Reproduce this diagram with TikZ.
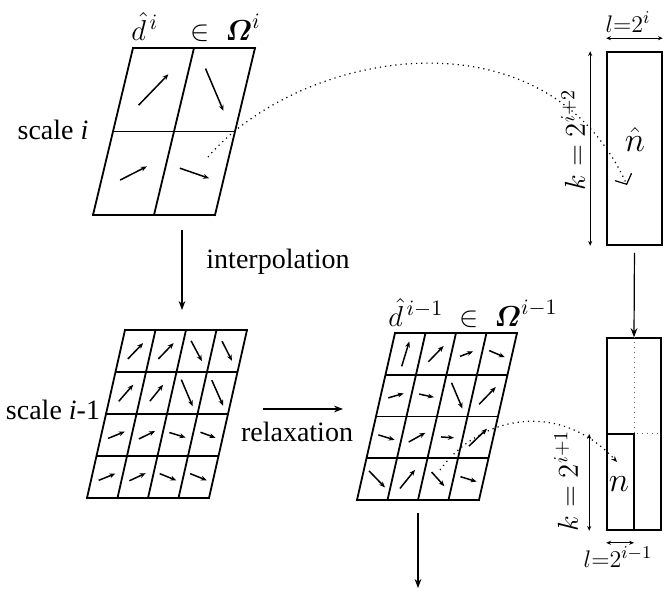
\documentclass[tikz,border=0pt]{standalone}
\usepackage{amsmath,amssymb}
\usepackage{fontspec}
\setmainfont{Liberation Serif}
\usepackage{tikz}
\usepackage{xcolor}
\usetikzlibrary{arrows.meta,calc}
\definecolor{ink}    {HTML}{000000}
\definecolor{inkgray}{HTML}{6A6A6A}
\tikzset{
  cellline/.style ={draw=ink, line width=0.9pt, line cap=rect},
  vec/.style      ={-{Stealth[length=3pt,width=2.4pt]}, line width=0.75pt, draw=ink},
  flow/.style     ={-{Stealth[length=4.5pt,width=3.4pt]}, line width=0.6pt, draw=ink},
  trace/.style    ={dotted, line width=0.6pt, draw=ink},
  dimline/.style  ={{Stealth[length=2.4pt,width=2pt]}-{Stealth[length=2.4pt,width=2pt]},
                    line width=0.4pt, draw=ink},
  blk/.style      ={draw=ink, line width=0.8pt, inner sep=0pt},
  lbl/.style      ={font=\fontsize{14}{16}\selectfont, inner sep=0pt},
  mlbl/.style     ={font=\fontsize{15}{17}\selectfont, inner sep=0pt},
}

\begin{document}
\begin{tikzpicture}[x=0.5pt,y=-0.5pt]
  \useasboundingbox (0,0) rectangle (665,598);

  % scale i: 2x2 field
  \begin{scope}[shift={(133,48)}]
    \foreach \k in {0,1,2} {
      \draw[cellline] (-20*\k,83.5*\k) -- ++(122,0);
      \draw[cellline] (61*\k,0) -- ++(-40,167);
    }
    \foreach \row/\col/\ang/\len in {0/0/46/43, 0/1/-67/46, 1/0/27/30, 1/1/-19/31}
      \draw[vec] (61*\col+30.5-20*\row-10, 83.5*\row+41.75) ++(180-\ang:\len/2) -- ++(-\ang:\len);
  \end{scope}

  % scale i-1: interpolated field
  \begin{scope}[shift={(125,330)}]
    \foreach \k in {0,...,4} {
      \draw[cellline] (-9.5*\k,42*\k) -- ++(122,0);
      \draw[cellline] (30.5*\k,0) -- ++(-38,168);
    }
    \foreach \row/\col/\ang/\len in {0/0/46/22, 0/1/46/22, 0/2/-62/23, 0/3/-63/22,
                                    1/0/49/22, 1/1/51/21, 1/2/-67/29, 1/3/-66/28,
                                    2/0/22/18, 2/1/26/18, 2/2/-17/17, 2/3/-20/16,
                                    3/0/22/18, 3/1/25/18, 3/2/-22/18, 3/3/-22/18}
      \draw[vec] (30.5*\col+15.25-9.5*\row-4.75, 42*\row+21) ++(180-\ang:\len/2) -- ++(-\ang:\len);
  \end{scope}

  % scale i-1: relaxed field
  \begin{scope}[shift={(395,333)}]
    \foreach \k in {0,...,4} {
      \draw[cellline] (-9.5*\k,41.75*\k) -- ++(122,0);
      \draw[cellline] (30.5*\k,0) -- ++(-38,167);
    }
    \foreach \row/\col/\ang/\len in {0/0/73/26, 0/1/46/22, 0/2/21/14, 0/3/-23/17,
                                    1/0/16/16, 1/1/-12/15, 1/2/-67/28, 1/3/46/24,
                                    2/0/-17/17, 2/1/29/19, 2/2/-4/13, 2/3/44/25,
                                    3/0/-46/23, 3/1/51/24, 3/2/-48/19, 3/3/-17/17}
      \draw[vec] (30.5*\col+15.25-9.5*\row-4.75, 41.75*\row+20.9) ++(180-\ang:\len/2) -- ++(-\ang:\len);
  \end{scope}

  % labels of the fields
  \node[mlbl] (omA) at (196,27) {$\hat{d}^{\,i}\;\;\;\in\;\boldsymbol{\varOmega}^{i}$};
  \node[mlbl] (omB) at (473,313) {$\hat{d}^{\,i-1}\;\in\;\boldsymbol{\varOmega}^{i-1}$};
  \node[lbl] (scA) at (53,130) {scale \textit{i}};
  \node[lbl] (scB) at (53,410) {scale \textit{i}-1};
  \node[lbl] (interp) at (278,262) {interpolation};
  \node[lbl] (relax) at (297,432) {relaxation};

  % blocks
  \node[blk, minimum width=27.5pt, minimum height=96.5pt] (blkA) at (634.5,148.5) {};
  \node[blk, minimum width=27pt, minimum height=96pt] (blkB) at (634,434) {};
  \draw[dotted, inkgray, line width=0.5pt] (blkB.north) -- (blkB.center) -- (blkB.east);
  \draw[ink, line width=0.8pt] (blkB.west) -- (blkB.center) -- (blkB.south);
  \node[mlbl, font=\fontsize{16}{18}\selectfont] (nhat) at (635,140) {$\hat{n}$};
  \node[mlbl, font=\fontsize{16}{18}\selectfont] (nsub) at (619,484) {$n$};

  % block sizes
  \draw[dimline] ($(blkA.north west)+(0,-13)$) -- ($(blkA.north east)+(0,-13)$);
  \draw[dimline] ($(blkA.north west)+(-16,0)$) -- ($(blkA.south west)+(-16,0)$);
  \draw[dimline] ($(blkB.south west)+(0,12)$) -- ($(blkB.south)+(0,12)$);
  \draw[dimline] ($(blkB.west)+(-17,0)$) -- ($(blkB.south west)+(-17,0)$);
  \node[lbl, font=\fontsize{13}{15}\selectfont] (lA) at (628,22) {$l{=}2^{i}$};
  \node[lbl, rotate=90] (kA) at (573,140) {$k=2^{i+2}$};
  \node[lbl, rotate=90] (kB) at (566,481) {$k=2^{i+1}$};
  \node[lbl, font=\fontsize{13}{15}\selectfont] (lB) at (618,557) {$l{=}2^{i-1}$};

  % flow between steps
  \coordinate (interpS) at (182,230);
  \coordinate (interpE) at (182,310);
  \coordinate (relaxS) at (263,409);
  \coordinate (relaxE) at (343,409);
  \coordinate (nextS) at (418,513);
  \coordinate (nextE) at (418,588);
  \draw[flow] (interpS) -- (interpE);
  \draw[flow] (relaxS) -- (relaxE);
  \draw[flow] (nextS) -- (nextE);
  \draw[flow, shorten <=3.5pt] (blkA.south) -- (blkB.north);

  % where a cell lands in its block
  \coordinate (srcA) at (208,157);
  \coordinate (dstA) at (627,185);
  \coordinate (srcB) at (440,470);
  \coordinate (dstB) at (617,462);
  \draw[trace, -{Straight Barb[length=4pt,width=9pt]}] (srcA) .. controls (300,50) and (545,5) .. (dstA);
  \draw[trace, -{Stealth[length=3pt,width=2.4pt]}] (srcB) .. controls (480,415) and (560,400) .. (dstB);
\end{tikzpicture}
\end{document}
